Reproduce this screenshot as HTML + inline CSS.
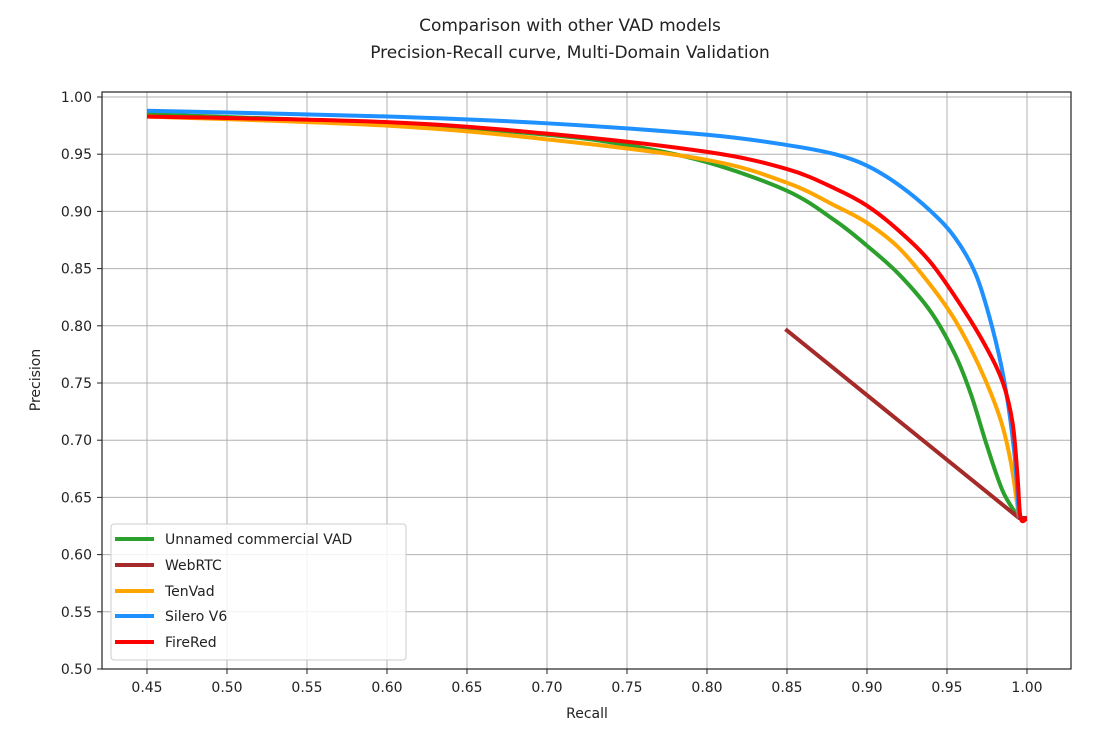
<!DOCTYPE html>
<html><head><meta charset="utf-8"><style>
body{margin:0;background:#fff;}
svg text{font-family:"DejaVu Sans","Liberation Sans",sans-serif;fill:#222;}
</style></head><body>
<svg id="s" width="1109" height="728" xmlns="http://www.w3.org/2000/svg">
<rect width="1109" height="728" fill="#fff"/>
<text x="570" y="31" font-size="17" text-anchor="middle">Comparison with other VAD models</text>
<text x="570" y="58" font-size="17" text-anchor="middle">Precision-Recall curve, Multi-Domain Validation</text>
<g id="grid"></g>
<g id="curves" fill="none" stroke-width="4" stroke-linejoin="round"></g>
<rect x="102" y="92" width="969" height="577" fill="none" stroke="#222" stroke-width="1.2"/>
<text x="587" y="718" font-size="14" text-anchor="middle">Recall</text>
<text transform="translate(40,380) rotate(-90)" font-size="14" text-anchor="middle">Precision</text>
<rect x="111" y="524" width="295" height="136" rx="3" fill="#fff" fill-opacity="0.85" stroke="#ccc"/>
<g stroke-width="4">
<line x1="115" y1="539" x2="154" y2="539" stroke="#2ca02c"/>
<line x1="115" y1="565" x2="154" y2="565" stroke="#a52a2a"/>
<line x1="115" y1="591" x2="154" y2="591" stroke="#ffa500"/>
<line x1="115" y1="616" x2="154" y2="616" stroke="#1e90ff"/>
<line x1="115" y1="642" x2="154" y2="642" stroke="#ff0000"/>
</g>
<g font-size="14">
<text x="165" y="544">Unnamed commercial VAD</text>
<text x="165" y="570">WebRTC</text>
<text x="165" y="596">TenVad</text>
<text x="165" y="621">Silero V6</text>
<text x="165" y="647">FireRed</text>
</g>
</svg>
<script>
var X=v=>1027+(v-1)*1600, Y=p=>97+(1-p)*1144;
var g=document.getElementById('grid'),c=document.getElementById('curves'),ns='http://www.w3.org/2000/svg',s=document.getElementById('s');
function el(p,t,a,txt){var e=document.createElementNS(ns,t);for(var k in a)e.setAttribute(k,a[k]);if(txt)e.textContent=txt;p.appendChild(e);return e;}
for(var i=0;i<=11;i++){var v=0.45+i*0.05,x=X(v);el(g,'line',{x1:x,x2:x,y1:92,y2:669,stroke:'#b0b0b0','stroke-width':1});el(g,'line',{x1:x,x2:x,y1:669,y2:674,stroke:'#222'});el(s,'text',{x:x,y:692,'font-size':14,'text-anchor':'middle'},v.toFixed(2));}
for(var i=0;i<=10;i++){var p=0.5+i*0.05,y=Y(p);el(g,'line',{x1:102,x2:1071,y1:y,y2:y,stroke:'#b0b0b0','stroke-width':1});el(g,'line',{x1:97,x2:102,y1:y,y2:y,stroke:'#222'});el(s,'text',{x:92,y:y+5,'font-size':14,'text-anchor':'end'},p.toFixed(2));}
var S={
'#2ca02c':[[0.45,0.985],[0.6,0.977],[0.7,0.967],[0.75,0.958],[0.8,0.943],[0.85,0.918],[0.88,0.892],[0.9,0.87],[0.92,0.845],[0.94,0.812],[0.955,0.775],[0.965,0.74],[0.975,0.695],[0.985,0.655],[0.995,0.632]],
'#a52a2a':[[0.849,0.797],[0.995,0.632],[1.0,0.632]],
'#ffa500':[[0.45,0.983],[0.6,0.975],[0.7,0.963],[0.8,0.945],[0.85,0.925],[0.88,0.905],[0.9,0.89],[0.92,0.868],[0.94,0.835],[0.955,0.805],[0.97,0.765],[0.983,0.72],[0.99,0.68],[0.995,0.632]],
'#1e90ff':[[0.45,0.988],[0.6,0.983],[0.7,0.977],[0.8,0.967],[0.85,0.958],[0.88,0.95],[0.9,0.94],[0.92,0.923],[0.94,0.9],[0.955,0.877],[0.968,0.845],[0.978,0.8],[0.986,0.75],[0.992,0.69],[0.995,0.632]],
'#ff0000':[[0.45,0.983],[0.6,0.978],[0.7,0.968],[0.8,0.952],[0.85,0.937],[0.88,0.92],[0.9,0.905],[0.92,0.883],[0.94,0.855],[0.96,0.815],[0.975,0.78],[0.985,0.75],[0.991,0.715],[0.994,0.67],[0.996,0.632],[1.0,0.632]]};
for(var col in S){var pts=S[col].map(q=>[X(q[0]),Y(q[1])]);var d='M'+pts[0];
for(var i=0;i<pts.length-1;i++){var p0=pts[i-1]||pts[i],p1=pts[i],p2=pts[i+1],p3=pts[i+2]||p2;
var c1=[p1[0]+(p2[0]-p0[0])/6,p1[1]+(p2[1]-p0[1])/6],c2=[p2[0]-(p3[0]-p1[0])/6,p2[1]-(p3[1]-p1[1])/6];
if(col=='#a52a2a'){d+=' L'+p2;}else d+=' C'+c1+' '+c2+' '+p2;}
el(c,'path',{d:d,stroke:col});}
</script>
</body></html>
